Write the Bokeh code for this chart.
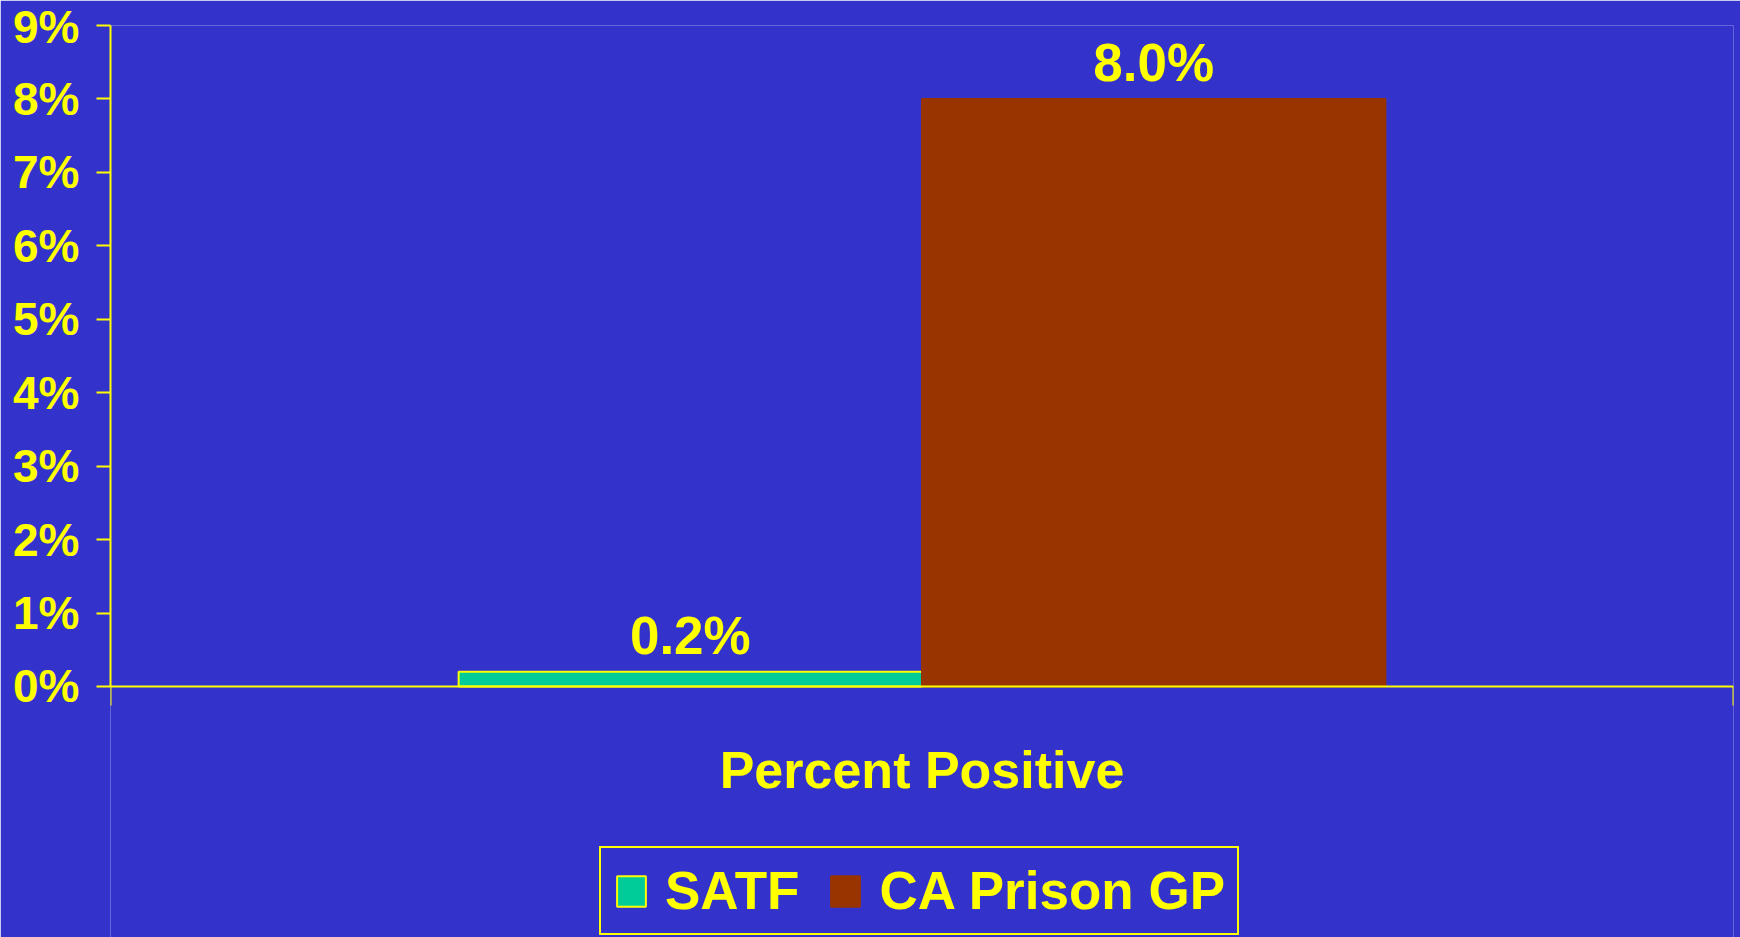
from bokeh.plotting import figure
from bokeh.models import (ColumnDataSource, FixedTicker, PrintfTickFormatter,
                          Legend, LegendItem, Range1d)
from bokeh.embed import file_html
from bokeh.resources import INLINE
from bokeh.core.properties import value

# ---- data ----
categories = ["Percent Positive"]
series = ["SATF", "CA Prison GP"]
values = [0.2, 8.0]
value_labels = ["0.2%", "8.0%"]
y_ticks = [0, 1, 2, 3, 4, 5, 6, 7, 8, 9]

# ---- style ----
BG = "#3333CC"
YEL = "#FFFF00"
FONT = "Liberation Sans"
fills = ["#00CC99", "#993300"]
outlines = [YEL, "#993300"]
BAR_W = 0.2855
Y_MAX = 9
Y_BELOW = 3.4177   # room under the zero line for the axis title and legend

p = figure(width=1740, height=937,
           x_range=Range1d(0, len(categories)), y_range=Range1d(-Y_BELOW, Y_MAX),
           output_backend="svg", toolbar_location=None,
           min_border_left=110, min_border_right=7, min_border_top=25,
           min_border_bottom=0)
p.background_fill_color = BG
p.border_fill_color = BG
p.outline_line_color = None
p.grid.visible = False

renderers = []
xs = []
n = len(series)
for j, s in enumerate(series):
    xc = 0 + 0.5 + (j - (n - 1) / 2) * BAR_W
    xs.append(xc)
    src = ColumnDataSource(dict(x=[xc], top=[values[j]]))
    r = p.vbar(x="x", top="top", bottom=0, width=BAR_W, source=src,
               fill_color=fills[j], line_color=outlines[j], line_width=2)
    renderers.append(r)

lsrc = ColumnDataSource(dict(x=xs, y=values, t=value_labels))
p.text(x="x", y="y", text="t", source=lsrc, text_align="center",
       text_baseline="alphabetic", y_offset=-36,
       text_font=value(FONT), text_font_style="bold",
       text_font_size="53px", text_color=YEL)

# x axis at the zero line: only end ticks (as minor ticks, so no tick labels)
xa = p.xaxis[0]
xa.fixed_location = 0
xa.ticker = FixedTicker(ticks=[], minor_ticks=[0, len(categories)])
xa.major_tick_out = 0
xa.major_tick_in = 0
xa.minor_tick_out = 19
xa.minor_tick_in = 0
xa.minor_tick_line_color = YEL
xa.minor_tick_line_width = 2
xa.axis_line_color = YEL
xa.axis_line_width = 2
xa.axis_label = categories[0]
xa.axis_label_text_font = FONT
xa.axis_label_text_font_style = "bold"
xa.axis_label_text_font_size = "52px"
xa.axis_label_text_color = YEL
xa.axis_label_standoff = 35

# y axis
ya = p.yaxis[0]
ya.bounds = (0, Y_MAX)
ya.ticker = FixedTicker(ticks=y_ticks)
ya.formatter = PrintfTickFormatter(format="%d%%")
ya.major_tick_out = 14
ya.major_tick_in = 0
ya.minor_tick_out = 0
ya.minor_tick_in = 0
ya.major_label_standoff = 17
ya.axis_line_color = YEL
ya.axis_line_width = 2
ya.major_tick_line_color = YEL
ya.major_tick_line_width = 2
ya.major_label_text_font = FONT
ya.major_label_text_font_style = "bold"
ya.major_label_text_font_size = "46px"
ya.major_label_text_color = YEL

legend = Legend(items=[LegendItem(label=s, renderers=[r]) for s, r in zip(series, renderers)],
                orientation="horizontal", location=(489, 2))
legend.label_text_font = FONT
legend.label_text_font_style = "bold"
legend.label_text_font_size = "53px"
legend.label_text_color = YEL
legend.glyph_width = 36
legend.glyph_height = 38
legend.label_standoff = 16
legend.spacing = 28
legend.padding = 12
legend.margin = 0
legend.border_line_color = YEL
legend.border_line_alpha = 1.0
legend.border_line_width = 2
legend.background_fill_color = BG
legend.background_fill_alpha = 1.0
p.add_layout(legend, "center")

open("out.html", "w").write(file_html(p, INLINE))
